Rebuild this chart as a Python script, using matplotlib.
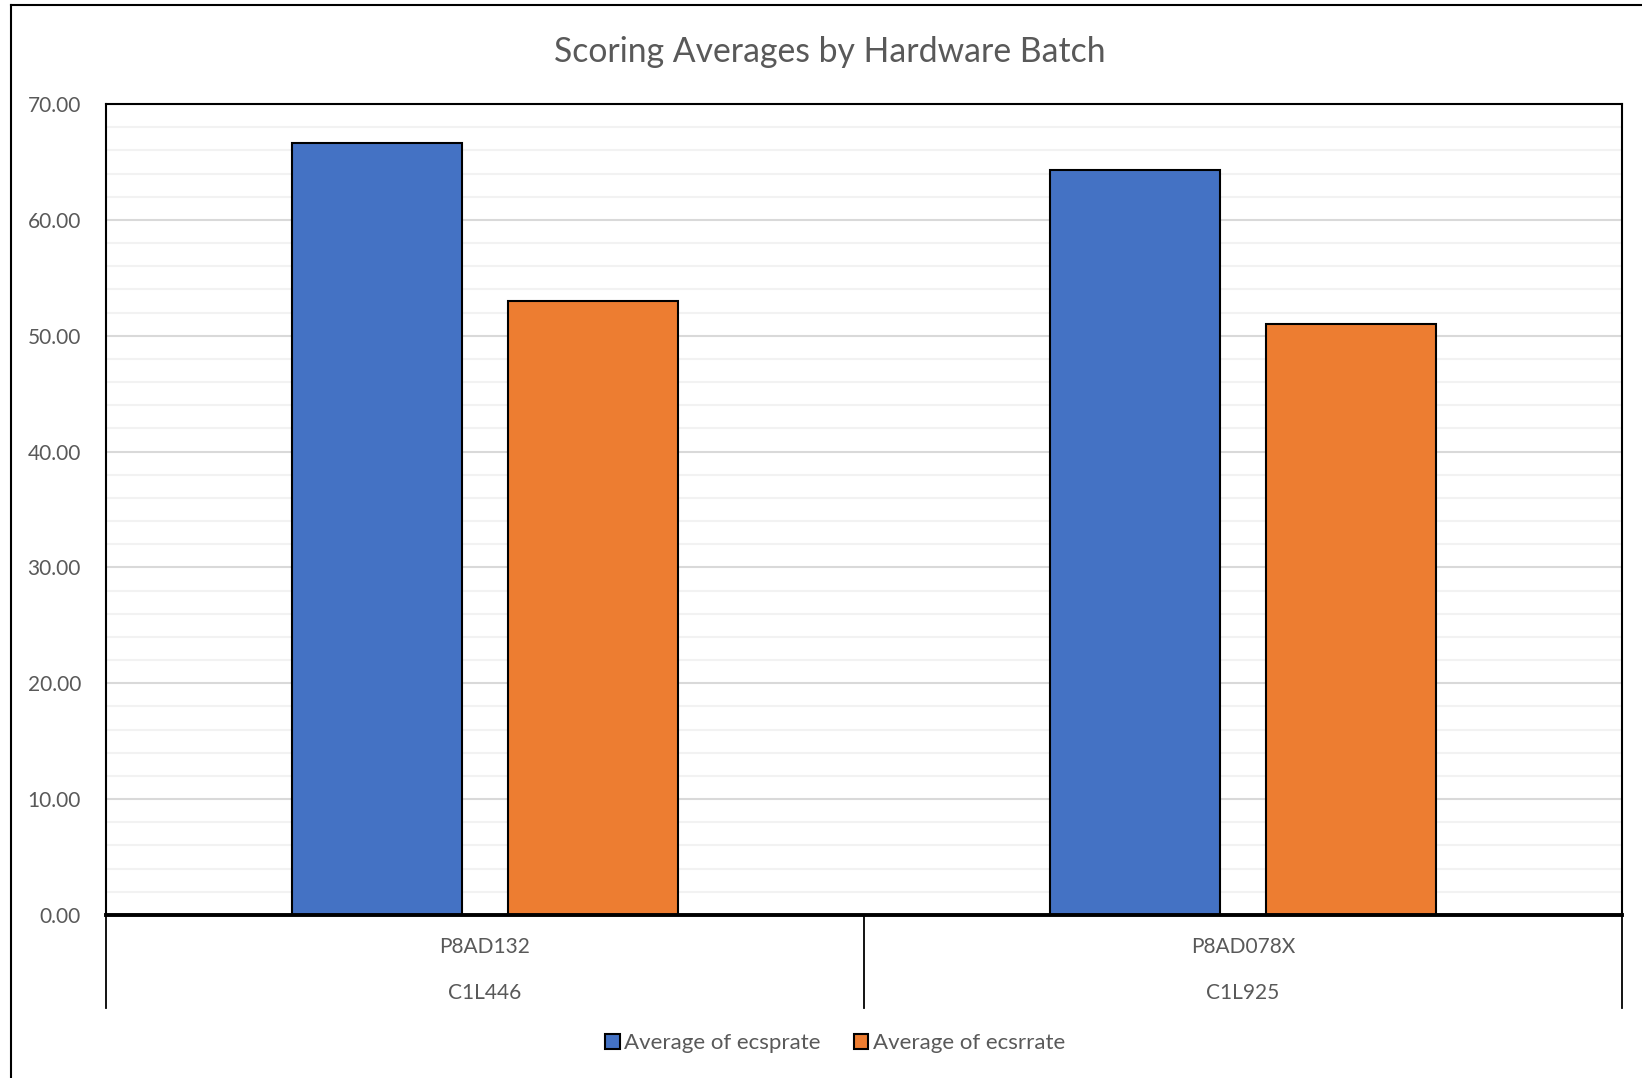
import matplotlib
matplotlib.use("Agg")
import matplotlib.pyplot as plt
from matplotlib.lines import Line2D
import numpy as np

plt.rcParams['font.family'] = ['Lato', 'DejaVu Sans']

# Data
batches = ["P8AD132", "P8AD078X"]
hardware = ["C1L446", "C1L925"]
series_names = ["Average of ecsprate", "Average of ecsrrate"]
ecsprate = [66.6, 64.3]
ecsrrate = [53.0, 51.0]
colors = ["#4472C4", "#ED7D31"]
yticks = [0, 10, 20, 30, 40, 50, 60, 70]

TXT = "#595959"
W, H = 1642, 1078
fig = plt.figure(figsize=(W / 100, H / 100), dpi=100)
fig.patch.set_facecolor("white")

# outer chart frame (extends past right/bottom edge)
fig.add_artist(Line2D([11 / W, 11 / W], [0, 1 - 5 / H], transform=fig.transFigure,
                      color="black", lw=1.5))
fig.add_artist(Line2D([11 / W, 1], [1 - 5 / H, 1 - 5 / H], transform=fig.transFigure,
                      color="black", lw=1.5))

left, right, top, bottom = 106, 1622, 104, 915
ax = fig.add_axes([left / W, 1 - bottom / H, (right - left) / W, (bottom - top) / H])

x = np.arange(len(batches))
bw = 0.224
off = 0.1425
ax.bar(x - off, ecsprate, bw, color=colors[0], edgecolor="black", linewidth=1.5,
       label=series_names[0], zorder=3)
ax.bar(x + off, ecsrrate, bw, color=colors[1], edgecolor="black", linewidth=1.5,
       label=series_names[1], zorder=3)

ax.set_xlim(-0.5, len(batches) - 0.5)
ax.set_ylim(0, 70)
ax.set_yticks(yticks)
ax.set_yticklabels([f"{v:.2f}" for v in yticks])
ax.set_yticks(np.arange(0, 71, 2), minor=True)
ax.tick_params(axis="y", which="both", length=0, pad=18, labelsize=15, labelcolor=TXT)
ax.set_xticks([])
ax.grid(axis="y", which="major", color="#d9d9d9", lw=1.5, zorder=0)
ax.grid(axis="y", which="minor", color="#f2f2f2", lw=1.5, zorder=0)
ax.set_axisbelow(True)

for s in ["top", "left", "right"]:
    ax.spines[s].set_color("black")
    ax.spines[s].set_linewidth(1.5)
ax.spines["bottom"].set_color("black")
ax.spines["bottom"].set_linewidth(2.8)
ax.spines["bottom"].set_zorder(5)

# multi-level category axis
tr = ax.get_xaxis_transform()
for b in np.arange(len(batches) + 1) - 0.5:
    ax.add_line(Line2D([b, b], [0, -0.1147], transform=tr, color="black", lw=1.3,
                       clip_on=False))
for i in range(len(batches)):
    ax.text(x[i], -0.0395, batches[i], transform=tr, ha="center", va="center",
            fontsize=15, color=TXT)
    ax.text(x[i], -0.0962, hardware[i], transform=tr, ha="center", va="center",
            fontsize=15, color=TXT)

fig.text(830 / W, 1 - 52 / H, "Scoring Averages by Hardware Batch", ha="center",
         va="center", fontsize=24.3, color=TXT)

leg = fig.legend(loc="center", bbox_to_anchor=(835 / W, 1 - 1043 / H), ncol=2,
                 frameon=False, fontsize=16, handlelength=0.65, handleheight=0.65,
                 handletextpad=0.2, columnspacing=1.5)
for t in leg.get_texts():
    t.set_color(TXT)

fig.savefig("out.png", dpi=100, facecolor="white")
